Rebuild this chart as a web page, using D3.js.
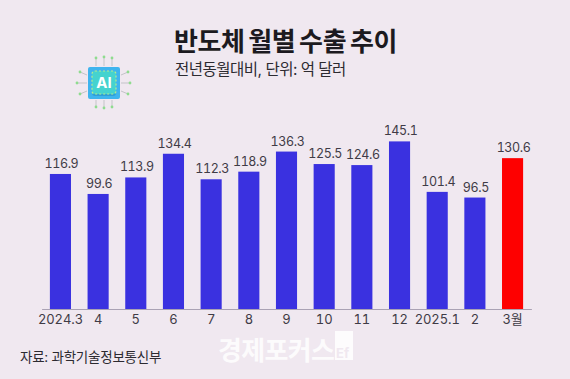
<!DOCTYPE html>
<html>
<head>
<meta charset="utf-8">
<script src="https://cdn.jsdelivr.net/npm/d3@7"></script>
<style>
html, body { margin: 0; padding: 0; background: #f0e8f0; }
svg { display: block; font-family: Inter, "Noto Sans CJK KR", sans-serif; }
.value, .tick text { font-variant-numeric: tabular-nums; }
</style>
</head>
<body>
<svg id="chart" width="570" height="379"></svg>
<script>
// ==================================
// DATA
// ==================================
const months = ["2024.3", "4", "5", "6", "7", "8", "9", "10", "11", "12", "2025.1", "2", "3월"];
const exportValues = [116.9, 99.6, 113.9, 134.4, 112.3, 118.9, 136.3, 125.5, 124.6, 145.1, 101.4, 96.5, 130.6];
const highlightMonth = "3월";

const svg = d3.select("#chart");

// ==================================
// SCALES
// ==================================
const x = d3.scaleBand()
    .domain(months)
    .range([41.6, 531.4])
    .paddingInner(0.44)
    .paddingOuter(0.22);

const y = d3.scaleLinear()
    .domain([0, 145.1])
    .range([309, 141.4]);

// ==================================
// BARS
// ==================================
svg.selectAll("rect.bar")
    .data(months)
    .enter()
    .append("rect")
    .attr("class", "bar")
    .attr("x", d => x(d))
    .attr("width", x.bandwidth())
    .attr("y", (d, i) => y(exportValues[i]))
    .attr("height", (d, i) => y(0) - y(exportValues[i]))
    .attr("fill", d => d === highlightMonth ? "#fe0000" : "#3a31e0");

svg.selectAll("text.value")
    .data(months)
    .enter()
    .append("text")
    .attr("class", "value")
    .attr("x", d => x(d) + x.bandwidth() / 2 + 1)
    .attr("y", (d, i) => y(exportValues[i]) - 6)
    .attr("text-anchor", "middle")
    .attr("font-size", 12.5)
    .attr("letter-spacing", -0.4)
    .attr("fill", "#3f3b46")
    .text((d, i) => exportValues[i]);

// ==================================
// AXIS
// ==================================
const axis = svg.append("g")
    .attr("transform", "translate(0,309)")
    .call(d3.axisBottom(x).tickSize(0).tickPadding(6));

axis.select(".domain").attr("stroke", "#aaa2b4").attr("stroke-width", 1);
axis.selectAll("text")
    .attr("font-size", 13)
    .attr("letter-spacing", -0.1)
    .attr("font-family", 'Inter, "Noto Sans CJK KR", sans-serif')
    .attr("fill", "#3f3b46");

// ==================================
// TITLES
// ==================================
svg.append("text")
    .attr("x", 174).attr("y", 51)
    .attr("font-size", 26).attr("font-weight", 700)
    .attr("letter-spacing", -0.4)
    .attr("word-spacing", -2)
    .attr("fill", "#1c1a20")
    .text("반도체 월별 수출 추이");

svg.append("text")
    .attr("x", 175).attr("y", 75)
    .attr("font-size", 15.5)
    .attr("letter-spacing", -0.5)
    .attr("fill", "#2c2a30")
    .text("전년동월대비, 단위: 억 달러");

svg.append("text")
    .attr("x", 20).attr("y", 362)
    .attr("font-size", 13.5)
    .attr("letter-spacing", -0.25)
    .attr("fill", "#2c2a30")
    .text("자료: 과학기술정보통신부");

// watermark
svg.append("text")
    .attr("x", 218).attr("y", 360)
    .attr("font-size", 26).attr("font-weight", 700)
    .attr("letter-spacing", -0.7)
    .attr("fill", "#ffffff")
    .attr("fill-opacity", 0.85)
    .text("경제포커스");

const mark = svg.append("g").attr("transform", "translate(335,331)");
mark.append("rect").attr("width", 18).attr("height", 29).attr("fill", "#ffffff").attr("fill-opacity", 0.85);
mark.append("text")
    .attr("x", 1).attr("y", 27)
    .attr("font-size", 13).attr("font-weight", 700)
    .attr("fill", "#f0e8f0")
    .text("Ef");

// ==================================
// CHIP ICON
// ==================================
const icon = svg.append("g").attr("transform", "translate(104,83)");
const traces = [
    [-8, -17, -8, -25], [0, -17, 0, -26], [8, -17, 8, -25],
    [-8, 17, -8, 24], [0, 17, 0, 25], [8, 17, 8, 24],
    [-17, -8, -24, -11], [-17, 0, -27, 0], [-17, 8, -24, 11],
    [17, -8, 24, -11], [17, 0, 26, 0], [17, 8, 24, 11]
];
icon.selectAll("line")
    .data(traces)
    .enter()
    .append("line")
    .attr("x1", d => d[0]).attr("y1", d => d[1])
    .attr("x2", d => d[2]).attr("y2", d => d[3])
    .attr("stroke", "#c4c4c8").attr("stroke-width", 1);
icon.selectAll("circle")
    .data(traces)
    .enter()
    .append("circle")
    .attr("cx", d => d[2]).attr("cy", d => d[3])
    .attr("r", 1.4)
    .attr("fill", "#8fdc8f");
icon.append("rect")
    .attr("x", -16).attr("y", -16).attr("width", 32).attr("height", 32).attr("rx", 2)
    .attr("fill", "#3fb4ee");
icon.append("rect")
    .attr("x", -12).attr("y", -10).attr("width", 24).attr("height", 23).attr("rx", 3)
    .attr("fill", "#2f9fd8");
icon.append("rect")
    .attr("x", -12).attr("y", -12).attr("width", 24).attr("height", 23).attr("rx", 3)
    .attr("fill", "#45d3cf")
    .attr("stroke", "#b5ec8e").attr("stroke-width", 1.2).attr("stroke-dasharray", "2 2");
icon.append("text")
    .attr("x", 0).attr("y", 5)
    .attr("text-anchor", "middle")
    .attr("font-size", 15).attr("font-weight", 700)
    .attr("fill", "#ffffff")
    .text("AI");
</script>
</body>
</html>
